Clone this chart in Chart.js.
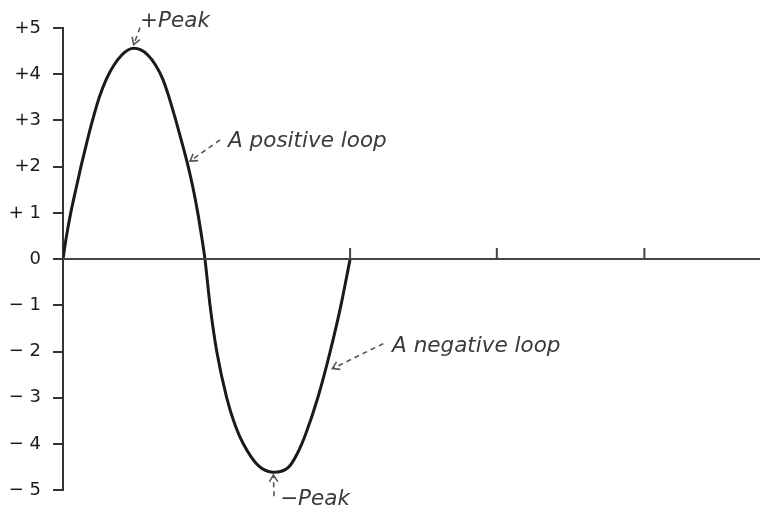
<!DOCTYPE html>
<html>
<head>
<meta charset="utf-8">
<script src="https://cdn.jsdelivr.net/npm/chart.js@4/dist/chart.umd.min.js"></script>
<style>
  html, body { margin: 0; padding: 0; background: #fff; }
  #wrap { width: 760px; height: 513px; }
</style>
</head>
<body>
<div id="wrap"><canvas id="waveChart"></canvas></div>
<script>
// phase along the axis (degrees) and the value of the wave
const phaseDeg = [0, 4.1, 9.7, 16, 22.5, 29.5, 37, 45.5, 54.5, 64, 74, 82, 89,
                  97, 106, 116, 125, 133, 141.5, 149.5, 157, 163.5, 169, 174, 178,
                  184.4, 192.8, 205.3, 216, 226.2, 245, 263.8,
                  283, 294, 304, 319.5, 335, 348.5, 360];
const waveValue = [0, 0.47, 1, 1.5, 2, 2.5, 3, 3.5, 3.9, 4.2, 4.42, 4.53, 4.56,
                   4.53, 4.42, 4.2, 3.9, 3.5, 3, 2.5, 2, 1.5, 1, 0.47, 0,
                   -1, -2, -3, -3.6, -4, -4.47, -4.61,
                   -4.5, -4.2, -3.8, -3, -2, -1, 0];

const yTickValues = [5, 4, 3, 2, 1, 0, -1, -2, -3, -4, -5];
const yTickLabels = ['+5', '+4', '+3', '+2', '+ 1', '0', '\u2212 1', '\u2212 2', '\u2212 3', '\u2212 4', '\u2212 5'];
const xTickMarks = [360, 544, 729];
const xMax = 874;

// callouts: text, where the text sits, and where the dashed arrow runs
const callouts = [
  { text: '+Peak',           tx: 96.6,  ty: 5.03,  from: [96.6, 5.01],  to: [88.6, 4.64] },
  { text: 'A positive loop', tx: 207,   ty: 2.43,  from: [197, 2.58],   to: [159.3, 2.12] },
  { text: 'A negative loop', tx: 412.7, ty: -2.02, from: [401.6, -1.83], to: [337.7, -2.37] },
  { text: '\u2212Peak',      tx: 272.2, ty: -5.31, from: [264.7, -5.13], to: [263.8, -4.67] }
];

const axisExtras = {
  id: 'axisExtras',
  afterDatasetsDraw(chart) {
    const { ctx, chartArea, scales: { x, y } } = chart;
    const y0 = y.getPixelForValue(0);
    ctx.save();
    ctx.strokeStyle = '#444';
    ctx.lineWidth = 2;
    ctx.beginPath();
    ctx.moveTo(chartArea.left, y0);
    ctx.lineTo(chartArea.right, y0);
    xTickMarks.forEach(v => {
      const px = x.getPixelForValue(v);
      ctx.moveTo(px, y0);
      ctx.lineTo(px, y0 - 11);
    });
    ctx.stroke();

    ctx.font = 'italic 21.5px "DejaVu Sans"';
    ctx.fillStyle = '#3a3a3a';
    ctx.textBaseline = 'alphabetic';
    callouts.forEach(c => {
      ctx.fillText(c.text, x.getPixelForValue(c.tx), y.getPixelForValue(c.ty));
      const fx = x.getPixelForValue(c.from[0]), fy = y.getPixelForValue(c.from[1]);
      const tx = x.getPixelForValue(c.to[0]), ty = y.getPixelForValue(c.to[1]);
      ctx.strokeStyle = '#555';
      ctx.lineWidth = 1.6;
      ctx.setLineDash([5, 4]);
      ctx.beginPath();
      ctx.moveTo(fx, fy);
      ctx.lineTo(tx, ty);
      ctx.stroke();
      ctx.setLineDash([]);
      const a = Math.atan2(ty - fy, tx - fx);
      ctx.beginPath();
      ctx.moveTo(tx - 8 * Math.cos(a - 0.55), ty - 8 * Math.sin(a - 0.55));
      ctx.lineTo(tx, ty);
      ctx.lineTo(tx - 8 * Math.cos(a + 0.55), ty - 8 * Math.sin(a + 0.55));
      ctx.stroke();
    });
    ctx.restore();
  }
};

new Chart(document.getElementById('waveChart').getContext('2d'), {
  type: 'line',
  data: {
    datasets: [{
      data: phaseDeg.map((p, i) => ({ x: p, y: waveValue[i] })),
      borderColor: '#1a1a1a',
      borderWidth: 3,
      pointRadius: 0,
      cubicInterpolationMode: 'monotone',
      fill: false
    }]
  },
  options: {
    responsive: true,
    maintainAspectRatio: false,
    animation: false,
    layout: { padding: { top: 28, bottom: 16, left: 0, right: 0 } },
    plugins: { legend: { display: false }, tooltip: { enabled: false } },
    scales: {
      x: { type: 'linear', min: 0, max: xMax, display: false },
      y: {
        min: -5,
        max: 5,
        afterBuildTicks: s => { s.ticks = yTickValues.map(v => ({ value: v })); },
        afterFit: s => { s.width = 63; },
        ticks: {
          padding: 12,
          color: '#1a1a1a',
          font: { family: 'DejaVu Sans', size: 18 },
          callback: v => yTickLabels[yTickValues.indexOf(v)]
        },
        grid: {
          drawOnChartArea: false,
          drawTicks: true,
          tickLength: 10,
          color: '#333',
          lineWidth: 2
        },
        border: { display: true, color: '#333', width: 2 }
      }
    }
  },
  plugins: [axisExtras]
});
</script>
</body>
</html>
